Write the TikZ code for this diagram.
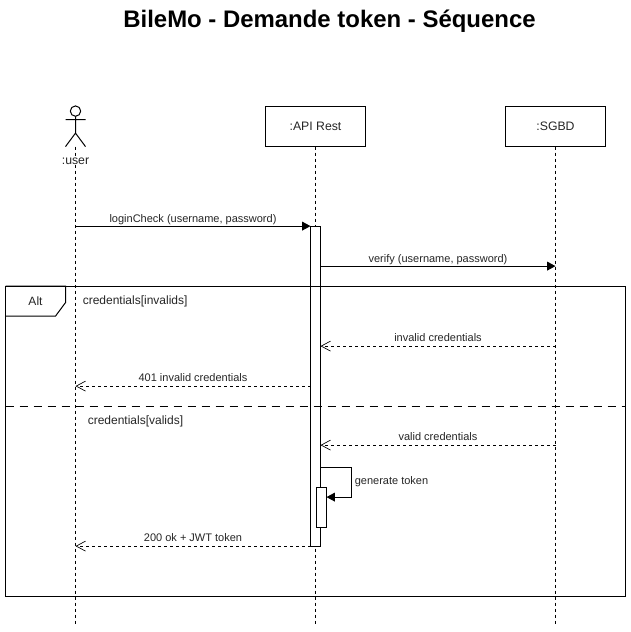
\documentclass[tikz,border=0pt]{standalone}
\usepackage{fontspec}
\setmainfont{Liberation Sans}
\usetikzlibrary{arrows.meta}
\tikzset{
 x=0.75pt,y=-0.75pt,
 every node/.style={font=\fontsize{8.25pt}{10pt}\selectfont,text=black!85,inner sep=0pt,outer sep=0pt},
 every path/.style={line width=0.75pt},
 lifebox/.style={draw,fill=white,minimum width=75pt,minimum height=30pt,anchor=north west,text=black!85,font=\fontsize{9.2pt}{11pt}\selectfont},
 lifeline/.style={dash pattern=on 2.25pt off 2.25pt},
 actbar/.style={draw,fill=white,minimum width=7.5pt,anchor=north west},
 msg/.style={-{Triangle[length=6.2pt,width=6.5pt]}},
 reply/.style={dash pattern=on 2.25pt off 2.25pt,-{Straight Barb[length=7pt,width=7.5pt,line width=0.5pt]}},
 lblm/.style={anchor=south,above=1pt},
 lblr/.style={anchor=south,above=3.2pt},
 guard/.style={anchor=west,font=\fontsize{9pt}{11pt}\selectfont}
}
\begin{document}
\begin{tikzpicture}
\useasboundingbox (0,0) rectangle (631,632);
\fill[white] (0,0) rectangle (631,632);
\node[font=\bfseries\fontsize{17.95pt}{21pt}\selectfont,text=black] (title) at (329.5,21) {BileMo - Demande token - Séquence};
\begin{scope}[shift={(0,-0.4)}]
% lifelines
\coordinate (userTop) at (75.5,147);
\coordinate (userEnd) at (75.5,625);
\node[lifebox] (api) at (265.5,107) {:API Rest};
\node[lifebox] (sgbd) at (505.5,107) {:SGBD};
\coordinate (apiEnd) at (315.5,625);
\coordinate (sgbdEnd) at (555.5,625);
\draw[lifeline] (userTop) -- (userEnd);
\draw[lifeline] (api.south) -- (apiEnd);
\draw[lifeline] (sgbd.south) -- (sgbdEnd);
% actor
\draw (75.5,111.5) circle[radius=5.2];
\draw (75.5,116.7) -- (75.5,133.5) (65.5,120) -- (85.5,120) (65.5,147) -- (75.5,133.5) -- (85.5,147);
\node[fill=white,inner xsep=0.5pt,inner ysep=0.5pt,font=\fontsize{9.2pt}{11pt}\selectfont] (user) at (75.5,161.5) {:user};
% activations
\node[actbar,minimum height=240pt] (act) at (310.5,226.5) {};
\node[actbar,minimum height=30pt] (act2) at (316.5,487.6) {};
% frame
\draw (5.5,286.5) rectangle (625.5,597);
\draw (5.5,286.5) -- (65.5,286.5) -- (65.5,303) -- (55.5,316.5) -- (5.5,316.5);
\node[font=\fontsize{9pt}{11pt}\selectfont] (alt) at (35.5,301.5) {Alt};
\node[guard] (g1) at (82.8,302) {credentials[invalids]};
\node[guard] (g2) at (87.8,422) {credentials[valids]};
\coordinate (divL) at (5.5,406.5);
\coordinate (divR) at (625.5,406.5);
\draw[dash pattern=on 6pt off 4.5pt] (divL) -- (divR);
% anchor coordinates
\coordinate (u1) at (75.5,226.5); \coordinate (a1) at (310.5,226.5);
\coordinate (a2) at (320.5,266.5); \coordinate (s2) at (555.5,266.5);
\coordinate (s3) at (555.5,346.5); \coordinate (a3) at (320.5,346.5);
\coordinate (a4) at (310.5,386.5); \coordinate (u4) at (75.5,386.5);
\coordinate (s5) at (555.5,445.5); \coordinate (a5) at (320.5,445.5);
\coordinate (a6) at (320.5,467.5); \coordinate (a7) at (326.5,497.5);
\coordinate (a8) at (310.5,546.5); \coordinate (u8) at (75.5,546.5);
\draw[msg] (u1) -- node[lblm] {loginCheck (username, password)} (a1);
\draw[msg] (a2) -- node[lblm] {verify (username, password)} (s2);
\draw[reply] (s3) -- node[lblr] {invalid credentials} (a3);
\draw[reply] (a4) -- node[lblr] {401 invalid credentials} (u4);
\draw[reply] (s5) -- node[lblr] {valid credentials} (a5);
\draw[msg] (a6) -- (351.5,467.5) -- node[right=2.5pt,pos=0.48] (gt) {generate token} (351.5,497.5) -- (a7);
\draw[reply] (a8) -- node[lblr] {200 ok + JWT token} (u8);
\end{scope}
\end{tikzpicture}
\end{document}
